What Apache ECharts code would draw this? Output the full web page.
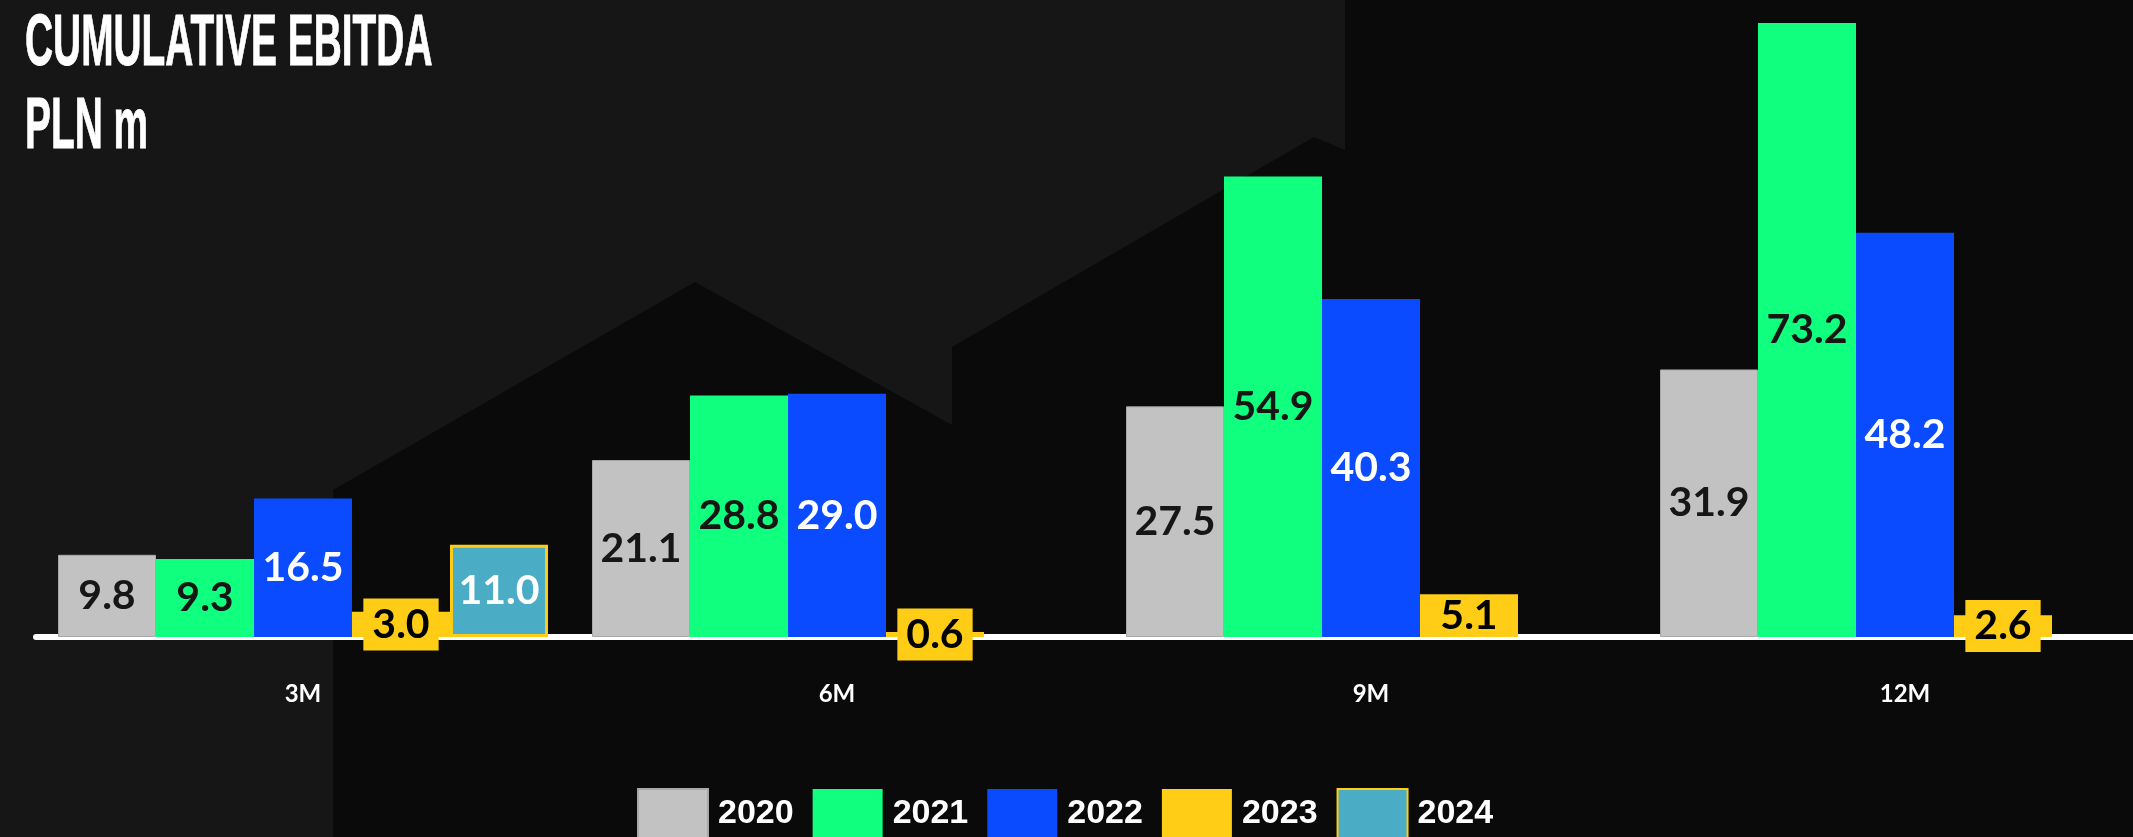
<!DOCTYPE html>
<html><head><meta charset="utf-8">
<script src="https://cdn.jsdelivr.net/npm/echarts@6/dist/echarts.min.js"></script>
<style>html,body{margin:0;padding:0;background:#151515;overflow:hidden}#c{width:2133px;height:837px;}</style>
</head><body><div id="c"></div>
<script>
// ---- data ----
const categories = ['3M', '6M', '9M', '12M'];
const seriesNames = ['2020', '2021', '2022', '2023', '2024'];
const v2020 = [9.8, 21.1, 27.5, 31.9];
const v2021 = [9.3, 28.8, 54.9, 73.2];
const v2022 = [16.5, 29.0, 40.3, 48.2];
const v2023 = [3.0, 0.6, 5.1, 2.6];
const v2024 = [11.0, null, null, null];
const titleText = 'CUMULATIVE EBITDA';
const unitText = 'PLN m';

// ---- styles ----
const C_GRAY = '#C2C2C2', C_GREEN = '#10FF7E', C_BLUE = '#0A4BFF', C_YELLOW = '#FFCD15', C_TEAL = '#4BACC6';
const headFont = '"Liberation Sans", Arial, sans-serif';

const chart = echarts.init(document.getElementById('c'));

function lbl(color, extra) {
  return Object.assign({
    show: true, position: 'inside', color: color,
    fontFamily: 'Lato', fontWeight: 'bold', fontSize: 41,
    formatter: p => (p.value == null ? '' : Number(p.value).toFixed(1))
  }, extra || {});
}

const yellowData = v2023.map(v => v != null && v < 4
  ? { value: v, label: { backgroundColor: C_YELLOW, padding: [5, 9], lineHeight: 42 } }
  : v);

const common = { type: 'bar', barWidth: 98, barGap: '0%' };

const option = {
  backgroundColor: '#161616',
  animation: false,
  graphic: [
    { type: 'polygon', silent: true, z: -100,
      shape: { points: [[333, 837], [333, 490], [695, 282], [952, 425], [952, 347], [1314, 137], [1345, 150], [1345, 0], [2133, 0], [2133, 837]] },
      style: { fill: '#0a0a0a' } },
    { type: 'text', x: 25, y: 8, scaleX: 0.81, scaleY: 1.52, silent: true,
      style: { text: titleText, fill: '#fff', font: 'bold 48px ' + headFont, textVerticalAlign: 'top', stroke: '#fff', lineWidth: 0.6 } },
    { type: 'text', x: 25, y: 91, scaleX: 0.81, scaleY: 1.52, silent: true,
      style: { text: unitText, fill: '#fff', font: 'bold 48px ' + headFont, textVerticalAlign: 'top', stroke: '#fff', lineWidth: 0.6 } }
  ],
  grid: { left: 36, right: -39, top: 8, bottom: 200, containLabel: false, outerBoundsMode: 'none' },
  legend: {
    left: 637, top: 788, padding: 0, itemWidth: 70, itemHeight: 49, itemGap: 19, icon: 'rect',
    data: seriesNames,
    textStyle: { color: '#fff', fontFamily: headFont, fontWeight: 'bold', fontSize: 34, padding: [0, 0, 0, 5] }
  },
  xAxis: {
    type: 'category', data: categories, offset: 2,
    axisLine: { lineStyle: { color: '#fff', width: 6 } },
    axisTick: { show: false },
    axisLabel: { color: '#fff', fontFamily: 'Lato', fontWeight: 'bold', fontSize: 24, margin: 43 }
  },
  yAxis: { type: 'value', min: 0, max: 75, show: false, splitLine: { show: false } },
  series: [
    Object.assign({}, common, { name: seriesNames[0], data: v2020, itemStyle: { color: C_GRAY, borderColor: '#a8a8a8', borderWidth: 1 }, label: lbl('#161616') }),
    Object.assign({}, common, { name: seriesNames[1], data: v2021, itemStyle: { color: C_GREEN }, label: lbl('#161616') }),
    Object.assign({}, common, { name: seriesNames[2], data: v2022, itemStyle: { color: C_BLUE }, label: lbl('#ffffff') }),
    Object.assign({}, common, { name: seriesNames[3], data: yellowData, itemStyle: { color: C_YELLOW }, label: lbl('#000000') }),
    Object.assign({}, common, { name: seriesNames[4], data: v2024, itemStyle: { color: C_TEAL, borderColor: C_YELLOW, borderWidth: 3 }, label: lbl('#ffffff') })
  ]
};
chart.setOption(option);
</script></body></html>
